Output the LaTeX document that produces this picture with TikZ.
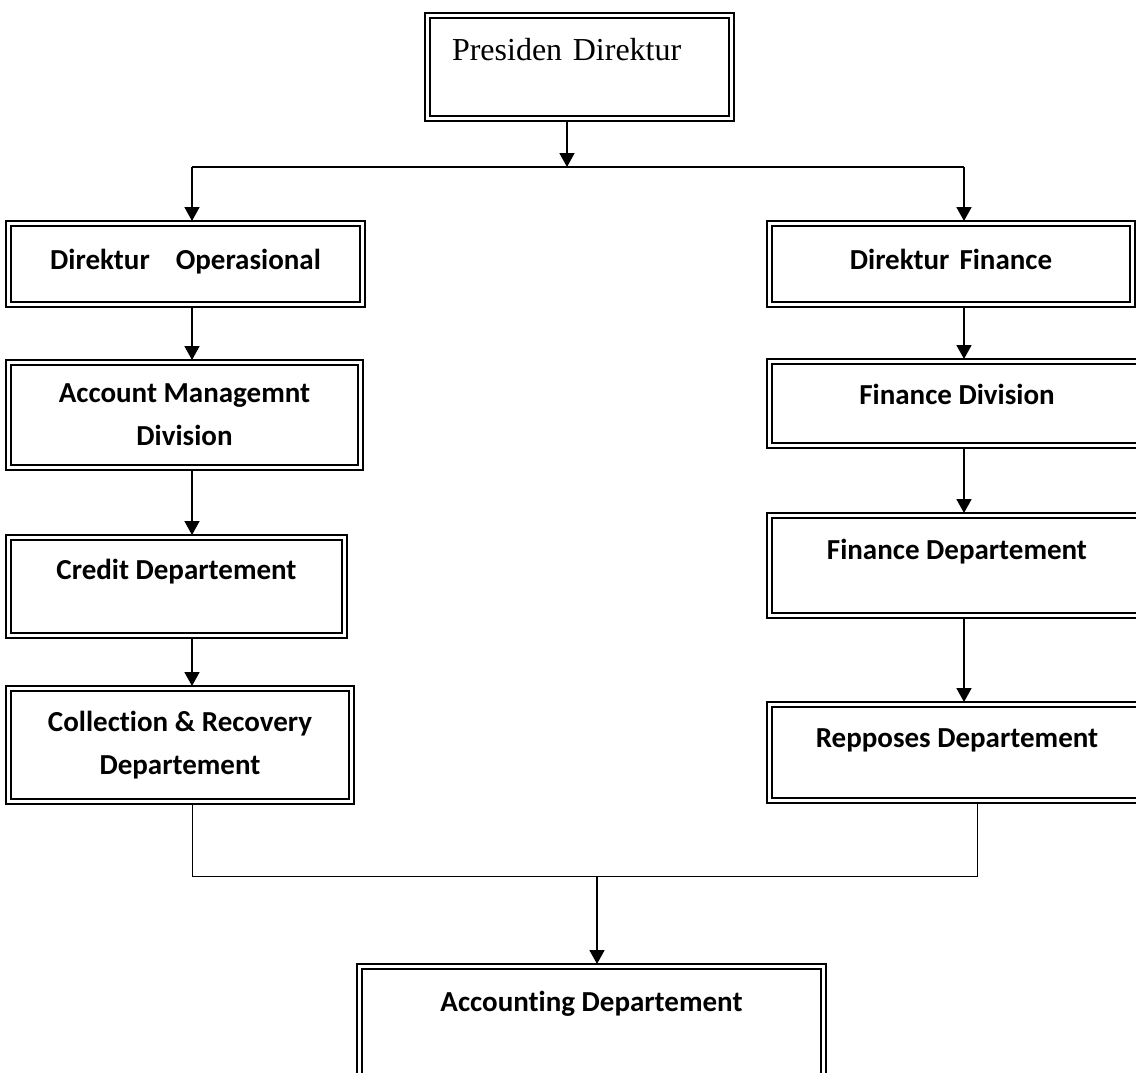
\documentclass[tikz,border=0pt]{standalone}
\usepackage{fontspec}
\setmainfont{Carlito}[Ligatures={NoCommon}]
\newfontfamily\timesfont{Liberation Serif}
\usepackage{tikz}
\usetikzlibrary{arrows.meta, positioning}
\tikzset{
  box/.style ={rectangle, draw, line width=2.4pt, outer sep=5pt, inner sep=0pt, align=center,
               font=\bfseries\fontsize{29}{43}\selectfont,
               append after command={\pgfextra{\draw[line width=1.2pt] (\tikzlastnode.north west) rectangle (\tikzlastnode.south east);}}},
  tx/.style  ={text height=21pt, text depth=#1},
  fl/.style  ={line width=1.8pt, -{Triangle[length=14pt, width=15pt]}},
  ln/.style  ={line width=1.6pt},
  jn/.style  ={line width=1pt},
}
\begin{document}
\begin{tikzpicture}[x=1pt, y=-1pt]
  \useasboundingbox (0,0) rectangle (1136,1073);
  \node[box, anchor=north west, minimum width=299pt, minimum height=98pt, inner xsep=22pt, text width=255pt,
        align=left, font=\timesfont\fontsize{32}{38}\selectfont, text height=22pt, text depth=35pt]
        (pres) at (425,13) {Presiden Direktur};
  \coordinate (px) at (567,167);
  \coordinate (lx) at (192,167);
  \coordinate (rx) at (964,167);
  \node[box, tx=10pt, anchor=north west, minimum width=349pt, minimum height=76pt] (dops) at (6,221) {Direktur\hspace{26pt}Operasional};
  \node[box, minimum width=347pt, minimum height=100pt, below=53pt of dops.south west, anchor=north west] (amd) {Account Managemnt\\Division};
  \node[box, tx=35pt, minimum width=331pt, minimum height=93pt, below=65pt of amd.south west, anchor=north west] (credit) {Credit Departement};
  \node[box, minimum width=338pt, minimum height=108pt, below=48pt of credit.south west, anchor=north west] (coll) {Collection \& Recovery\\Departement};
  \node[box, tx=10pt, anchor=north west, minimum width=358pt, minimum height=76pt] (dfin) at (767,221) {Direktur\hspace{10pt}Finance};
  \node[box, tx=19pt, minimum width=370pt, minimum height=79pt, below=52pt of dfin.south west, anchor=north west] (fdiv) {Finance Division};
  \node[box, tx=33pt, minimum width=370pt, minimum height=95pt, below=65pt of fdiv.south west, anchor=north west] (fdept) {Finance Departement};
  \node[box, tx=31pt, minimum width=370pt, minimum height=91pt, below=84pt of fdept.south west, anchor=north west] (rep) {Repposes Departement};
  \coordinate (mx) at (597,876);
  \coordinate (rb) at (977,876);
  \node[box, tx=47pt, anchor=north west, minimum width=459pt, minimum height=111pt] (acc) at (357,964) {Accounting Departement};
  \draw[fl] (pres.south -| px) -- (px);
  \draw[ln] (lx) -- (rx);
  \draw[fl] (lx) -- (dops.north -| lx);
  \draw[fl] (rx) -- (dfin.north -| rx);
  \draw[fl] (dops.south -| lx) -- (amd.north -| lx);
  \draw[fl] (amd.south -| lx) -- (credit.north -| lx);
  \draw[fl] (credit.south -| lx) -- (coll.north -| lx);
  \draw[fl] (dfin.south -| rx) -- (fdiv.north -| rx);
  \draw[fl] (fdiv.south -| rx) -- (fdept.north -| rx);
  \draw[fl] (fdept.south -| rx) -- (rep.north -| rx);
  \draw[jn] (coll.south -| lx) |- (rb) -- (rep.south -| rb);
  \draw[fl] (mx) -- (acc.north -| mx);
\end{tikzpicture}
\end{document}
